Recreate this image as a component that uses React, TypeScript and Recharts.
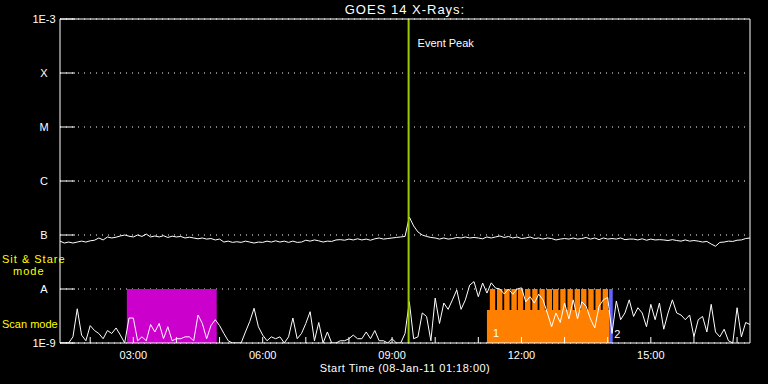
import { LineChart, Line, XAxis, YAxis, CartesianGrid, ReferenceArea, ReferenceLine } from "recharts";

const FONT = "'Liberation Sans', Arial, sans-serif";

// time base: 6-minute samples from 01:18 onwards (hours of day)
const START_HOUR = 1.3;
const END_HOUR = 17.3;
const SAMPLE_STEP = 0.1;

// long channel (1-8 A), units of 1e-8 W/m2
const longFlux = [
  7.7, 7.1, 7.4, 7.1, 7.4, 7.7, 7.4, 7.8, 8.0, 8.8,
  8.1, 9.2, 8.8, 9.1, 9.6, 10, 9.5, 9.2, 10, 9.4,
  10.4, 9.2, 9.6, 9.2, 9.7, 9.0, 9.5, 9.2, 9.4, 8.8,
  9.1, 8.8, 8.5, 8.8, 8.4, 8.6, 8.1, 8.4, 7.4, 7.7,
  7.3, 7.5, 7.3, 7.7, 7.4, 7.1, 7.4, 7.3, 7.7, 7.4,
  7.8, 7.4, 7.7, 7.3, 7.7, 7.3, 7.4, 8.0, 7.7, 8.1,
  7.8, 7.4, 7.7, 7.6, 8.1, 8.2, 8.0, 8.4, 8.1, 8.5,
  8.1, 8.4, 8.0, 8.5, 8.8, 8.4, 8.6, 8.8, 9.0, 9.2,
  9.4, 21.5, 14.7, 11.4, 10, 9.4, 9.0, 8.8, 8.4, 8.8,
  8.4, 8.6, 9.0, 8.8, 9.2, 8.8, 9.0, 8.8, 8.5, 9.2,
  8.8, 9.2, 9.6, 9.0, 9.4, 8.8, 9.2, 8.6, 8.8, 9.2,
  8.6, 8.8, 8.4, 8.8, 8.6, 8.1, 8.4, 8.6, 8.4, 8.8,
  8.4, 8.6, 9.0, 8.4, 8.8, 8.2, 8.8, 8.4, 8.6, 8.4,
  8.8, 8.2, 8.4, 8.4, 8.1, 8.5, 8.0, 8.4, 8.1, 8.2,
  8.1, 7.9, 8.2, 7.9, 7.7, 8.1, 7.7, 7.9, 7.7, 7.4,
  7.6, 6.8, 6.2, 7.3, 7.4, 7.7, 7.6, 8.0, 8.1, 8.6, 8.8,
];

// short channel (0.5-4 A), units of 1e-9 W/m2
const shortFlux = [
  1, 1, 1, 1.3, 4.3, 1.4, 1.1, 2.1, 1.7, 1.5, 1.2, 1.7, 1.5, 1.9, 1.4, 1,
  2.9, 2.9, 1.1, 1.3, 1.1, 2.2, 1.6, 2.3, 1.2, 2.0, 1.1, 1.2, 1.2, 1.3, 1.3, 1.1, 3.3,
  2.3, 1.2, 2.1, 2.7, 2.1, 1.5, 1.1, 1, 1, 1, 1.6, 2.5, 4.4, 2.0, 1.4, 1.1, 1.3, 1.2,
  1.3, 1, 1.3, 2.9, 1.2, 1.5, 2.3, 3.8, 1.1, 2.4, 1, 1.6, 1,
  1, 1.1, 1.1, 1.2, 1.4, 1.2, 1.2, 1.6, 1.2, 1.7, 1.1, 1.1, 1, 1.2, 1, 1, 1.5, 5.8,
  1.2, 1.3, 3.6, 3.1, 1.1, 6.8, 2.3, 5.5, 4.2, 6.3, 9.6, 4.2, 6.3, 11.8, 13.7, 7.2,
  12.9, 8.4, 13, 10.4, 10, 8.1, 10, 8, 10, 10.5, 5.8, 7.2, 5.5, 8, 6.3, 3.6,
  2.0, 3.6, 2.4, 5.5, 2.8, 6.3, 2.8, 5.8, 4.8, 2.8, 1.9, 4.8, 6.3, 7, 1.5, 6,
  2.7, 3.6, 6.3, 3.1, 4.5, 3.6, 2.0, 5.2, 2.7, 5.5, 1.8, 3.6, 6.3, 3.6, 3.3, 2.7,
  3.3, 1.3, 2.7, 3.1, 1.6, 5.2, 1.6, 1.3, 1.8, 1.1, 1, 4.5, 1.3, 2.4, 2.2,
];

const hourTicks = [2, 3, 4, 5, 6, 7, 8, 9, 10, 11, 12, 13, 14, 15, 16, 17];
const labeledHours = [3, 6, 9, 12, 15];
const levels = [1e-9, 1e-8, 1e-7, 1e-6, 1e-5, 1e-4, 1e-3];
const levelLabels = ["1E-9", "A", "B", "C", "M", "X", "1E-3"];

const eventPeak = "09:23";
const sitStareWindow = ["02:51", "04:56"];
const scanWindow = ["11:12", "14:02"];
const rasterStarts = [
  "11:16", "11:26", "11:36", "11:46", "11:55", "12:05", "12:15", "12:25", "12:35",
  "12:44", "12:54", "13:04", "13:14", "13:23", "13:33", "13:43", "13:53",
];
const RASTER_MINUTES = 7.5;
const scanStop = ["14:02", "14:07"];

const toHours = (s: string) => {
  const [h, m] = s.split(":").map(Number);
  return h + m / 60;
};

const data = shortFlux.map((s, i) => ({
  t: START_HOUR + i * SAMPLE_STEP,
  short: s * 1e-9,
  long: longFlux[i] * 1e-8,
}));

const YTick = (props: any) => {
  const idx = levels.findIndex((l) => Math.abs(Math.log10(l) - Math.log10(props.payload.value)) < 0.01);
  return (
    <text x={44} y={props.y + 4} fill="#fff" fontSize={11} textAnchor="middle" fontFamily={FONT}>
      {levelLabels[idx]}
    </text>
  );
};

const XTick = (props: any) => {
  const h = Math.round(props.payload.value);
  if (!labeledHours.includes(h)) return <g />;
  return (
    <text x={props.x} y={359} fill="#fff" fontSize={11} textAnchor="middle" fontFamily={FONT}>
      {String(h).padStart(2, "0")}:00
    </text>
  );
};

const EventLabel = (props: any) => (
  <text x={props.viewBox.x + 9} y={props.viewBox.y + 28} fill="#fff" fontSize={11} fontFamily={FONT}>
    Event Peak
  </text>
);

const DOMAIN_X: [number, number] = [START_HOUR, END_HOUR];
const DOMAIN_Y: [number, number] = [1e-9, 1e-3];

export default function App() {
  return (
    <div style={{ position: "relative", width: 768, height: 384, background: "#000", fontFamily: FONT }}>
      <style>{"body{margin:0;background:#000}"}</style>
      <LineChart width={768} height={384} data={data} margin={{ top: 18, right: 17, bottom: 40, left: 59 }}>
        <CartesianGrid vertical={false} stroke="#fff" strokeDasharray="1 5" />
        <ReferenceArea
          x1={toHours(sitStareWindow[0])}
          x2={toHours(sitStareWindow[1])}
          y1={1e-9}
          y2={1e-8}
          fill="#cc00cc"
          fillOpacity={1}
          stroke="none"
        />
        <ReferenceArea
          x1={toHours(scanWindow[0])}
          x2={toHours(scanWindow[1])}
          y1={1e-9}
          y2={4.1e-9}
          fill="#ff8000"
          fillOpacity={1}
          stroke="none"
          label={{ value: "1", position: "insideBottomLeft", offset: 6, fill: "#fff", fontSize: 11 }}
        />
        {rasterStarts.map((s) => (
          <ReferenceArea
            key={s}
            x1={toHours(s)}
            x2={toHours(s) + RASTER_MINUTES / 60}
            y1={4e-9}
            y2={1e-8}
            fill="#ff8000"
            fillOpacity={1}
            stroke="none"
          />
        ))}
        <ReferenceArea
          x1={toHours(scanStop[0])}
          x2={toHours(scanStop[1])}
          y1={1e-9}
          y2={1e-8}
          fill="#6464ff"
          fillOpacity={1}
          stroke="none"
          label={{ value: "2", position: "insideBottomLeft", offset: 5, fill: "#fff", fontSize: 11 }}
        />
        <XAxis
          dataKey="t"
          type="number"
          domain={DOMAIN_X}
          ticks={hourTicks}
          interval={0}
          tick={XTick}
          tickSize={-6}
          height={1}
          stroke="#fff"
          allowDataOverflow
        />
        <XAxis
          xAxisId="top"
          orientation="top"
          dataKey="t"
          type="number"
          domain={DOMAIN_X}
          ticks={hourTicks}
          interval={0}
          tick={false}
          tickSize={-6}
          height={1}
          stroke="#fff"
          allowDataOverflow
        />
        <YAxis
          scale="log"
          type="number"
          domain={DOMAIN_Y}
          ticks={levels}
          interval={0}
          tick={YTick}
          tickSize={-15}
          width={1}
          stroke="#fff"
          allowDataOverflow
        />
        <YAxis
          yAxisId="right"
          orientation="right"
          scale="log"
          type="number"
          domain={DOMAIN_Y}
          ticks={levels}
          interval={0}
          tick={false}
          tickSize={-15}
          width={1}
          stroke="#fff"
          allowDataOverflow
        />
        <Line dataKey="long" stroke="#fff" strokeWidth={1} dot={false} type="linear" isAnimationActive={false} />
        <Line dataKey="short" stroke="#fff" strokeWidth={1} dot={false} type="linear" isAnimationActive={false} />
        <ReferenceLine x={toHours(eventPeak)} stroke="#99cc00" strokeWidth={2} label={EventLabel} />
      </LineChart>
      <svg
        width={768}
        height={384}
        style={{ position: "absolute", left: 0, top: 0, pointerEvents: "none" }}
        fontFamily={FONT}
      >
        <text x={405} y={14} fill="#fff" fontSize={13} letterSpacing={1} textAnchor="middle">
          GOES 14 X-Rays:
        </text>
        <text x={405} y={372} fill="#fff" fontSize={11} letterSpacing={0.5} textAnchor="middle">
          Start Time (08-Jan-11 01:18:00)
        </text>
        <text x={2} y={263} fill="#ffff00" fontSize={11} letterSpacing={1}>
          Sit &amp; Stare
        </text>
        <text x={13} y={275} fill="#ffff00" fontSize={11} letterSpacing={1}>
          mode
        </text>
        <text x={2} y={328} fill="#ffff00" fontSize={11}>
          Scan mode
        </text>
      </svg>
    </div>
  );
}
